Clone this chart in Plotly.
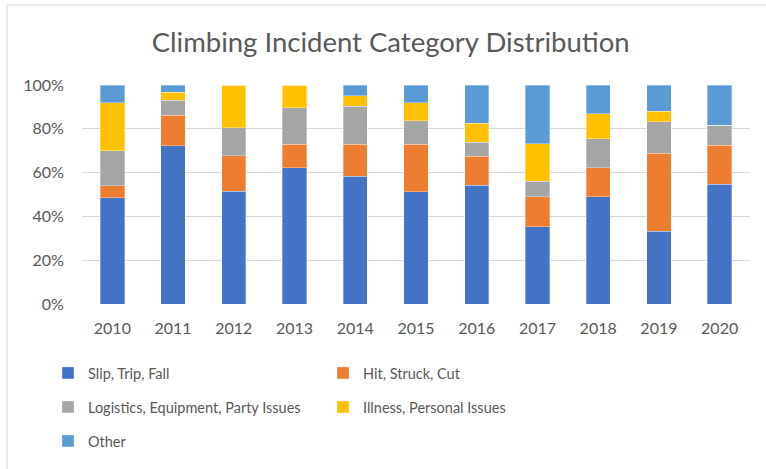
import plotly.graph_objects as go

years = ["2010", "2011", "2012", "2013", "2014", "2015", "2016", "2017", "2018", "2019", "2020"]
slip_trip_fall = [48.6, 72.3, 51.6, 62.3, 58.4, 51.3, 54.2, 35.3, 49.0, 33.2, 54.6]
hit_struck_cut = [5.3, 13.8, 16.1, 10.6, 14.5, 21.6, 13.2, 13.7, 13.3, 35.7, 18.0]
logistics = [16.1, 6.9, 12.8, 16.7, 17.4, 10.8, 6.4, 7.0, 13.2, 14.4, 9.0]
illness = [21.9, 3.8, 19.5, 10.4, 4.8, 8.2, 8.7, 17.1, 11.3, 4.8, 0.0]
other = [8.1, 3.2, 0.0, 0.0, 4.9, 8.1, 17.5, 26.9, 13.2, 11.9, 18.4]

series = [
    ("Slip, Trip, Fall", slip_trip_fall, "#4472C4", "legend"),
    ("Hit, Struck, Cut", hit_struck_cut, "#ED7D31", "legend"),
    ("Logistics, Equipment, Party Issues", logistics, "#A5A5A5", "legend2"),
    ("Illness, Personal Issues", illness, "#FFC000", "legend2"),
    ("Other", other, "#5B9BD5", "legend3"),
]

W, H = 766, 469
ml, mr, mt, mb = 82, 16, 85, 165

fig = go.Figure()
for name, vals, color, leg in series:
    fig.add_trace(go.Bar(
        x=years, y=vals, name=name, legend=leg,
        marker=dict(color=color, line=dict(width=0.6, color="rgba(255,255,255,0.55)")),
    ))

font_family = "Lato, 'Open Sans', sans-serif"
txt = "#595959"
pw = W - ml - mr
ph = H - mt - mb

def px_x(p):
    return (p - ml) / pw

def px_y(p):
    return (H - mb - p) / ph

leg_common = dict(orientation="h", entrywidth=230, entrywidthmode="pixels",
                  traceorder="normal", xref="container", yref="container",
                  font=dict(family=font_family, size=14.5, color=txt),
                  xanchor="left", yanchor="middle", bgcolor="rgba(0,0,0,0)",
                  itemclick=False, itemdoubleclick=False)

lx = 48 / W
fig.update_layout(
    width=W, height=H,
    margin=dict(l=ml, r=mr, t=mt, b=mb, autoexpand=False),
    barmode="stack", barnorm="percent", bargap=0.6,
    paper_bgcolor="white", plot_bgcolor="white",
    font=dict(family=font_family, size=16, color=txt),
    title=dict(text="Climbing Incident Category Distribution", x=0.51, xanchor="center",
               y=1 - 42 / H, yanchor="middle",
               font=dict(family=font_family, size=27.5, color=txt)),
    xaxis=dict(showgrid=False, showline=False, zeroline=False, ticks="outside", ticklen=10,
               automargin=False,
               tickcolor="rgba(0,0,0,0)", tickfont=dict(size=16, color=txt)),
    yaxis=dict(range=[0, 100], dtick=20, ticksuffix="%", showgrid=True, gridcolor="#D9D9D9",
               gridwidth=1, zeroline=False, showline=False, ticks="outside", ticklen=14,
               automargin=False,
               tickcolor="rgba(0,0,0,0)", tickfont=dict(size=16, color=txt)),
    legend=dict(x=lx, y=1 - 373 / H, **leg_common),
    legend2=dict(x=lx, y=1 - 407 / H, **leg_common),
    legend3=dict(x=lx, y=1 - 441 / H, **leg_common),
    showlegend=True,
)

fig.add_shape(type="rect", xref="paper", yref="paper",
              x0=px_x(7), x1=px_x(775), y0=px_y(480), y1=px_y(5),
              line=dict(color="#D9D9D9", width=1), fillcolor="rgba(0,0,0,0)", layer="below")

fig.write_html("out.html",
               config={"displayModeBar": False},
               post_script="document.body.style.margin='0';document.body.style.overflow='hidden';")
